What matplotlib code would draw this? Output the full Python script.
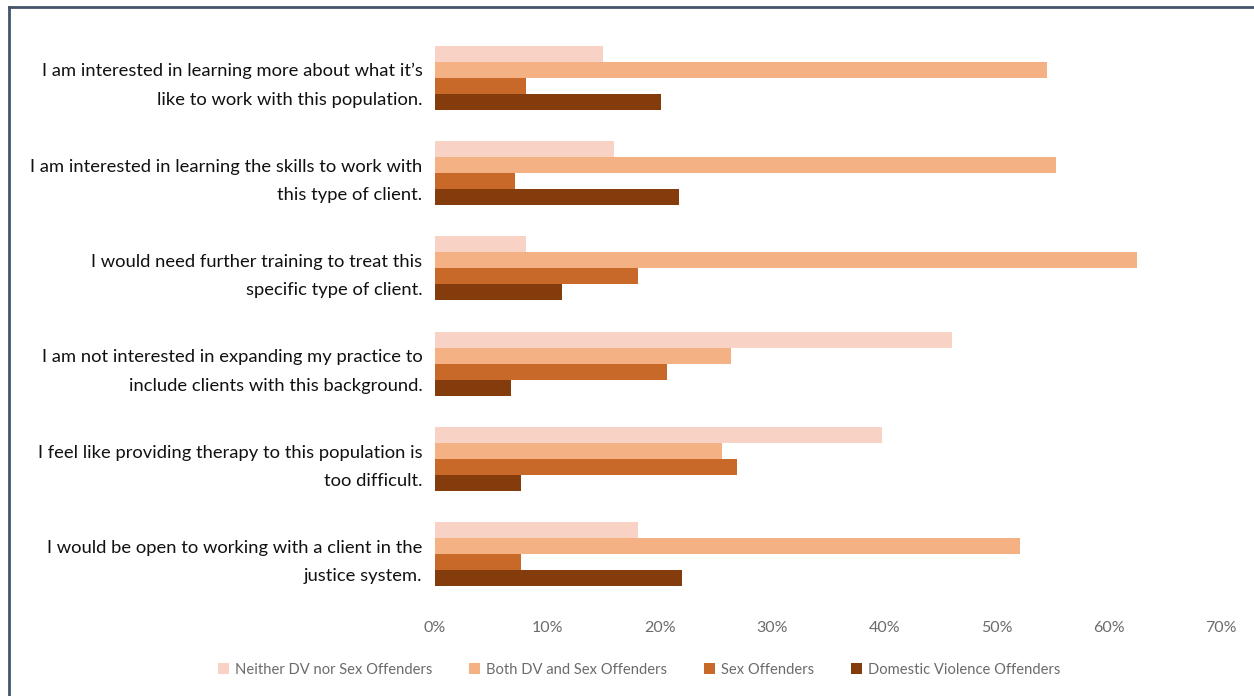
import matplotlib
matplotlib.use("Agg")
import matplotlib.pyplot as plt
from matplotlib.lines import Line2D
from matplotlib.patches import Patch
import numpy as np

categories = [
    "I am interested in learning more about what it\u2019s\nlike to work with this population.",
    "I am interested in learning the skills to work with\nthis type of client.",
    "I would need further training to treat this\nspecific type of client.",
    "I am not interested in expanding my practice to\ninclude clients with this background.",
    "I feel like providing therapy to this population is\ntoo difficult.",
    "I would be open to working with a client in the\njustice system.",
]
series_names = ["Neither DV nor Sex Offenders", "Both DV and Sex Offenders",
                "Sex Offenders", "Domestic Violence Offenders"]
neither = [15.0, 15.9, 8.1, 46.0, 39.8, 18.1]
both = [54.5, 55.3, 62.5, 26.4, 25.6, 52.1]
sex = [8.1, 7.1, 18.1, 20.7, 26.9, 7.7]
dv = [20.1, 21.7, 11.3, 6.8, 7.7, 22.0]
xticks = [0, 10, 20, 30, 40, 50, 60, 70]

colors = ["#F7D2C5", "#F4B183", "#C8692A", "#843C0C"]

plt.rcParams['font.family'] = ['Lato', 'DejaVu Sans']

fig = plt.figure(figsize=(12.54, 6.96), dpi=100)
ax = fig.add_axes([435/1254, 1-602/696, (1221-435)/1254, (602-30)/696])

n = len(categories)
y = np.arange(n)
h = 0.168
data = [neither, both, sex, dv]
for i, (vals, c, name) in enumerate(zip(data, colors, series_names)):
    ax.barh(y + (i - 1.5) * h, vals, height=h, color=c, label=name)

ax.set_ylim(n - 0.5, -0.5)
ax.set_xlim(0, 70)
ax.set_xticks(xticks)
ax.set_xticklabels([f"{t}%" for t in xticks], fontsize=11.5, color="#6b6b6b")
ax.set_yticks(y)
ax.set_yticklabels(categories, fontsize=13.2, color="#111111", linespacing=1.95,
                   ha='right')
ax.tick_params(axis='y', length=0, pad=9)
ax.tick_params(axis='x', length=0, pad=14)
for s in ax.spines.values():
    s.set_visible(False)

handles = [Patch(facecolor=c, edgecolor='none') for c in colors]
leg = fig.legend(handles, series_names, loc='center', bbox_to_anchor=(639/1254, 1-670/696),
                 ncol=4, frameon=False, handlelength=0.75, handleheight=0.75,
                 handletextpad=0.4, columnspacing=2.5,
                 prop={'family': ['Lato', 'DejaVu Sans'], 'size': 10.6})
for t in leg.get_texts():
    t.set_color("#6b6b6b")

# frame lines (left and top)
fig.add_artist(Line2D([9/1254, 9/1254], [0, 1-7/696], transform=fig.transFigure,
                      color="#44546A", lw=2))
fig.add_artist(Line2D([9/1254, 1], [1-7/696, 1-7/696], transform=fig.transFigure,
                      color="#44546A", lw=2))

fig.savefig("out.png", dpi=100)
